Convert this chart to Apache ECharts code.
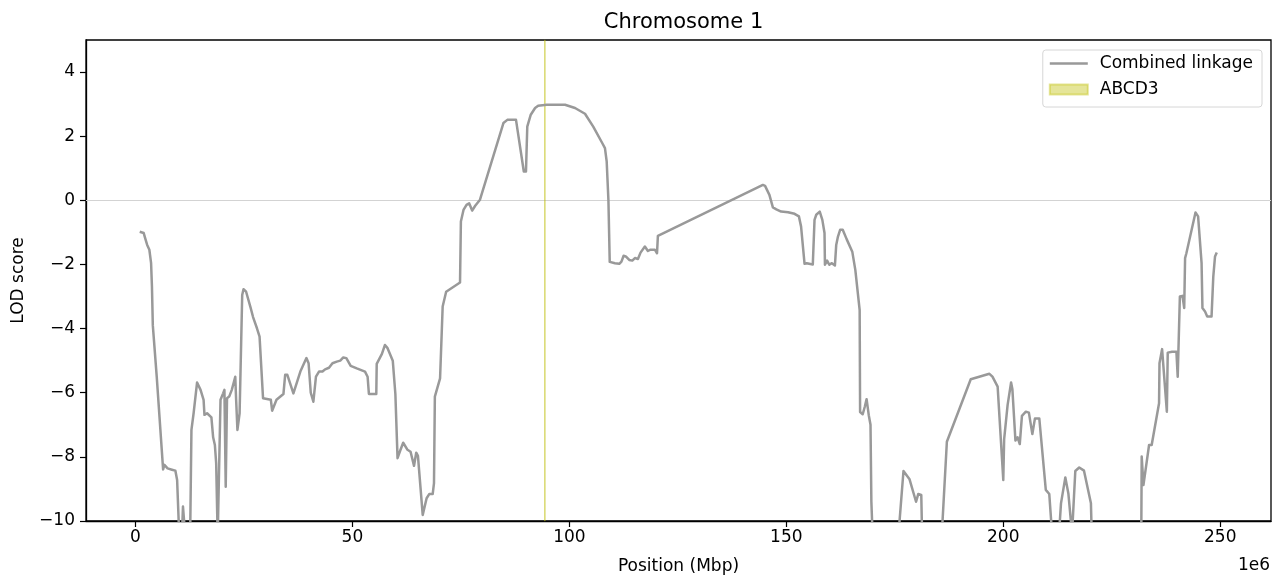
<!DOCTYPE html>
<html>
<head>
<meta charset="utf-8">
<script src="https://cdn.jsdelivr.net/npm/echarts@6/dist/echarts.min.js"></script>
<style>html,body{margin:0;padding:0;background:#fff;}#chart{width:1273px;height:576px;}</style>
</head>
<body>
<div id="chart"></div>
<script>
// Position in Mbp (axis shows the bp scale with a 1e6 offset)
const positions = [
  0.98,1.9,2.3,2.7,3.2,3.6,3.8,4.0,4.9,6.37,6.67,7.4,8.4,9.2,9.6,10.1,10.7,10.95,11.5,12.6,12.9,
  13.4,14.2,15.0,15.7,15.9,16.5,17.5,17.9,18.3,18.6,18.95,19.1,19.6,20.2,20.5,20.8,21.1,21.6,22.0,
  22.2,23.0,23.2,23.5,24.0,24.2,24.6,24.9,25.5,26.5,27.1,28.0,28.6,29.4,31.2,31.5,31.8,32.5,34.1,
  34.5,35.0,36.4,38.0,39.4,39.9,40.4,41.0,41.6,42.3,43.1,43.7,44.6,45.4,46.4,47.2,47.9,48.6,49.6,
  51.0,52.9,53.5,53.8,55.5,55.6,56.8,57.5,58.1,59.3,59.9,60.4,61.0,61.7,62.7,63.4,64.2,64.7,65.1,
  66.2,67.1,67.7,68.5,68.8,69.0,70.2,70.8,71.6,74.8,75.0,75.6,76.3,76.9,77.6,78.3,79.4,84.8,85.7,
  87.7,89.5,90.0,90.3,91.1,92.1,92.8,94.8,99.0,101.3,103.6,105.5,107.6,108.2,108.6,109.0,109.3,
  110.5,111.5,112.0,112.5,113.0,113.8,114.5,115.1,115.8,116.4,117.4,118.1,118.7,119.7,120.2,120.4,
  144.6,145.1,146.1,146.9,147.7,148.8,150.4,151.9,152.9,153.4,154.2,154.7,156.1,156.5,156.9,157.7,
  158.3,158.8,158.9,159.4,159.9,160.5,161.2,161.5,161.9,162.4,163.0,163.9,165.2,165.9,166.9,167.0,
  167.6,168.1,168.5,169.0,169.4,169.6,169.9,175.8,177.0,178.4,179.9,180.4,181.1,181.3,185.8,187.0,
  192.5,196.8,197.5,198.7,200.0,200.2,201.0,201.8,202.1,202.8,203.3,203.8,204.3,205.2,205.9,206.7,
  207.3,208.3,209.8,210.6,211.3,212.8,213.3,214.3,215.0,215.85,216.6,217.5,218.6,220.2,220.4,231.8,
  231.9,232.3,233.6,234.2,235.9,236.0,236.6,236.9,237.7,237.9,238.9,239.9,240.2,240.7,241.3,241.7,
  241.9,242.2,244.3,244.9,245.7,245.9,246.5,247.0,248.0,248.4,248.8,249.2
];
const lodScores = [
  -0.98,-1.02,-1.21,-1.39,-1.54,-1.96,-2.69,-3.90,-5.5,-8.39,-8.25,-8.36,-8.40,-8.43,-8.72,-10.5,-10.5,-9.55,-10.5,-10.5,-7.16,
  -6.64,-5.68,-5.91,-6.22,-6.69,-6.64,-6.77,-7.39,-7.63,-8.2,-10.5,-10.5,-6.22,-6.02,-5.91,-8.93,-6.17,-6.12,-6.1,
  -5.91,-5.50,-6.22,-7.16,-6.64,-6.64,-2.95,-2.77,-2.85,-3.33,-3.64,-3.99,-4.25,-6.17,-6.22,-6.56,-6.60,-6.22,-6.04,
  -5.44,-5.44,-6.02,-5.34,-4.92,-5.08,-6.0,-6.28,-5.5,-5.34,-5.34,-5.27,-5.22,-5.08,-5.03,-5.0,-4.9,-4.92,-5.16,
  -5.24,-5.34,-5.5,-6.04,-6.04,-5.1,-4.79,-4.51,-4.61,-5.0,-6.04,-8.04,-7.81,-7.56,-7.78,-7.84,-8.28,-7.87,-7.97,
  -9.81,-9.29,-9.16,-9.16,-8.82,-6.12,-5.55,-3.31,-2.85,-2.56,-0.66,-0.30,-0.14,-0.09,-0.32,-0.17,0.02,2.41,2.51,
  2.51,0.9,0.9,2.30,2.67,2.88,2.95,2.98,2.98,2.88,2.70,2.30,1.78,1.63,1.21,0.0,-1.92,
  -1.96,-1.98,-1.91,-1.73,-1.75,-1.86,-1.88,-1.80,-1.83,-1.63,-1.44,-1.58,-1.54,-1.54,-1.65,-1.11,
  0.48,0.45,0.17,-0.22,-0.28,-0.35,-0.37,-0.42,-0.50,-0.82,-1.98,-1.96,-2.0,-0.61,-0.45,-0.35,
  -0.61,-1.02,-2.01,-1.88,-2.01,-1.96,-2.03,-1.39,-1.13,-0.92,-0.92,-1.21,-1.60,-2.17,-3.42,-6.60,
  -6.67,-6.43,-6.20,-6.7,-7.0,-9.4,-10.5,-10.5,-8.44,-8.70,-9.40,-9.16,-9.19,-10.5,-10.5,-7.53,
  -5.58,-5.41,-5.50,-5.81,-8.72,-7.45,-6.38,-5.68,-5.89,-7.49,-7.39,-7.60,-6.72,-6.59,-6.62,-7.29,
  -6.80,-6.80,-9.03,-9.16,-10.5,-10.5,-9.45,-8.64,-9.14,-10.4,-8.44,-8.33,-8.43,-9.45,-10.5,-10.5,
  -7.99,-8.88,-7.63,-7.63,-6.33,-5.08,-4.64,-4.64,-6.59,-4.75,-4.72,-4.72,-5.5,-3.0,-2.98,-3.36,
  -1.80,-1.65,-0.38,-0.50,-1.96,-3.36,-3.47,-3.62,-3.62,-2.38,-1.75,-1.63
];
const xTicks = [0, 50, 100, 150, 200, 250];
const yTicks = [-10, -8, -6, -4, -2, 0, 2, 4];
const geneName = 'ABCD3';
const geneSpan = [94.30, 94.42];
const seriesName = 'Combined linkage';
const titleText = 'Chromosome 1';

const FONT = 'DejaVu Sans';
const lineData = positions.map((p, i) => [p, lodScores[i]]);
const minus = v => String(v).replace('-', '\u2212');

const chart = echarts.init(document.getElementById('chart'), null, {renderer: 'canvas'});
chart.setOption({
  animation: false,
  textStyle: {fontFamily: FONT},
  title: {
    text: titleText, left: 678.5, top: 7, padding: 5, textAlign: 'center',
    textStyle: {fontFamily: FONT, fontSize: 21, fontWeight: 'normal', color: '#000'}
  },
  grid: {left: 86, right: 2, top: 40, bottom: 55, outerBoundsMode: 'none', containLabel: false,
         show: true, borderColor: '#000', borderWidth: 1.3, backgroundColor: 'transparent'},
  legend: {
    orient: 'vertical', right: 11, top: 50,
    data: [
      {name: seriesName, icon: 'path://M0,0L38,0L38,2.6L0,2.6Z'},
      {name: geneName, icon: 'rect'}
    ],
    itemWidth: 38, itemHeight: 10, itemGap: 9,
    padding: [5, 9, 9, 6],
    backgroundColor: '#fff', borderColor: '#d6d6d6', borderWidth: 1, borderRadius: 3,
    textStyle: {fontFamily: FONT, fontSize: 17, color: '#000', padding: [0, 0, 0, 7]}
  },
  xAxis: {
    type: 'value', min: -11.4, max: 261.7,
    name: 'Position (Mbp)', nameLocation: 'middle', nameGap: 37,
    nameTextStyle: {fontFamily: FONT, fontSize: 17, color: '#000'},
    axisLine: {show: true, onZero: false, lineStyle: {color: '#000', width: 1.3}},
    axisTick: {show: true, length: 6, customValues: xTicks, lineStyle: {color: '#000', width: 1.2}},
    axisLabel: {customValues: xTicks, fontFamily: FONT, fontSize: 17, color: '#000', margin: 8, formatter: v => minus(v)},
    splitLine: {show: false}
  },
  yAxis: {
    type: 'value', min: -10, max: 5,
    name: 'LOD score', nameLocation: 'middle', nameGap: 59, nameRotate: 90,
    nameTextStyle: {fontFamily: FONT, fontSize: 17, color: '#000'},
    axisLine: {show: true, onZero: false, lineStyle: {color: '#000', width: 1.3}},
    axisTick: {show: true, length: 6, customValues: yTicks, lineStyle: {color: '#000', width: 1.2}},
    axisLabel: {customValues: yTicks, fontFamily: FONT, fontSize: 17, color: '#000', margin: 11, formatter: v => minus(v)},
    splitLine: {show: false}
  },
  graphic: [{
    type: 'text', right: 3, top: 557,
    style: {text: '1e6', font: '17px "DejaVu Sans"', fill: '#000'}
  }],
  series: [
    {
      name: seriesName, type: 'line', data: lineData, showSymbol: false, symbol: 'none',
      clip: true, z: 3,
      lineStyle: {color: '#999999', width: 2.5, join: 'round'},
      itemStyle: {color: '#999999'},
      markLine: {
        silent: true, symbol: 'none', label: {show: false}, z: 1,
        lineStyle: {color: '#d3d3d3', width: 1.2, type: 'solid'},
        data: [{yAxis: 0}]
      }
    },
    {
      name: geneName, type: 'bar', data: [],
      itemStyle: {color: 'rgba(191,191,0,0.4)', borderColor: 'rgba(191,191,0,0.4)', borderWidth: 1},
      markArea: {
        silent: true, z: 2,
        itemStyle: {color: 'rgba(191,191,0,0.4)', borderColor: 'rgba(191,191,0,0.4)', borderWidth: 1},
        data: [[{xAxis: geneSpan[0]}, {xAxis: geneSpan[1]}]]
      }
    }
  ]
});
</script>
</body>
</html>
